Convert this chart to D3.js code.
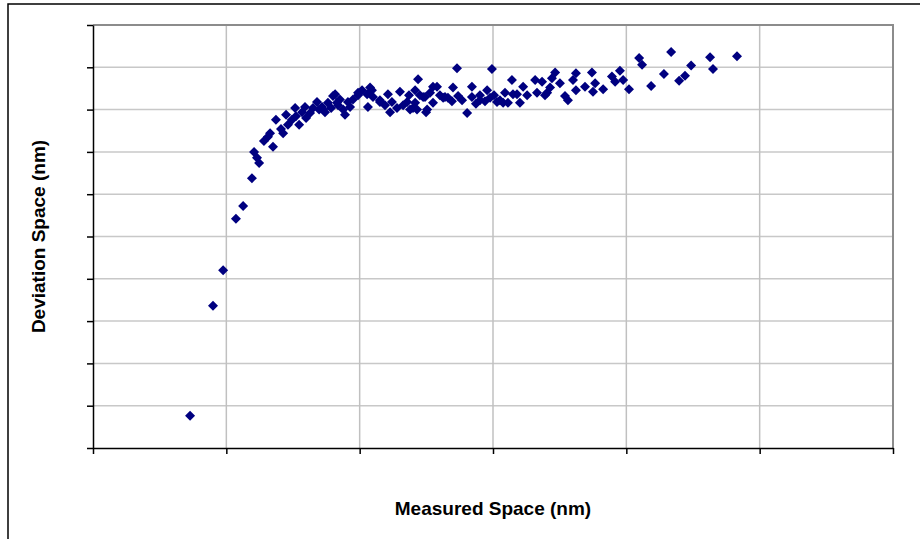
<!DOCTYPE html>
<html>
<head>
<meta charset="utf-8">
<script src="https://cdn.jsdelivr.net/npm/d3@7"></script>
<style>
  body { margin: 0; background: #fff; }
  svg { display: block; }
  .axis-title { font-family: "Liberation Sans", Arial, sans-serif; font-weight: bold; font-size: 19px; fill: #000; }
</style>
</head>
<body>
<svg id="chart" width="920" height="539"></svg>
<script>
// measured space (nm) of each sample
const measured = [
    36.4, 45.0, 48.8, 53.6, 56.3, 59.6, 60.4, 61.5, 62.3, 64.1,
    65.6, 66.4, 67.5, 68.6, 70.5, 71.3, 72.4, 74.6, 75.8, 77.3,
    78.4, 79.5, 81.4, 84.0, 85.9, 87.0, 88.1, 90.8, 91.9, 93.8,
    94.5, 96.4, 97.5, 99.4, 100.9, 102.8, 103.1, 104.6, 107.6, 109.5,
    110.6, 111.4, 115.1, 116.3, 117.8, 120.8, 121.9, 121.5, 123.8, 125.3,
    86.3, 90.0, 91.5, 95.6, 99.4, 103.9, 105.0, 107.6, 112.1, 118.9,
    120.8, 73.1, 76.1, 79.9, 82.5, 84.8, 89.3, 92.6,
    120.0, 122.6, 124.5, 126.4, 127.5, 129.0, 130.1, 131.3, 132.0, 134.6,
    135.0, 136.5, 138.4, 140.3, 142.1, 142.1, 145.1, 145.1, 147.8, 148.9,
    149.6, 151.5, 124.9,
    153.8, 154.5, 155.6, 157.1, 157.5, 159.0, 160.1, 161.3, 162.8, 165.8,
    166.5, 168.4, 169.5, 170.3, 171.4, 172.1, 173.3, 175.1, 177.0, 178.1,
    180.0, 181.1, 181.1, 184.5, 187.1, 187.5, 188.3,
    191.3, 194.6, 195.8, 197.6, 198.8, 201.0, 204.8, 205.9, 209.3, 214.1,
    216.8, 219.8, 222.0, 224.3, 231.4, 232.5, 241.5,
    114.0, 118.5, 127.5, 133.1, 136.9, 143.6, 147.0, 150.4, 152.6
];

// deviation space (nm) of each sample
const deviation = [
    3.8, 16.8, 21.0, 27.1, 28.6, 31.9, 35.0, 34.3, 33.7, 36.3,
    36.8, 37.2, 35.6, 38.8, 37.7, 37.2, 39.4, 38.8, 40.2, 38.2,
    39.7, 40.3, 39.6, 40.9, 40.3, 39.7, 40.8, 41.8, 40.5, 40.0,
    39.4, 40.3, 41.2, 41.7, 42.3, 41.8, 40.3, 42.3, 40.9, 40.5,
    41.8, 39.7, 42.1, 40.5, 40.9, 42.3, 43.6, 40.0, 41.5, 40.0,
    40.0, 41.6, 40.8, 40.9, 42.0, 42.6, 41.5, 41.1, 40.9, 40.0,
    40.8, 38.2, 39.2, 39.0, 40.2, 40.0, 40.2, 41.2,
    40.2, 41.7, 41.5, 42.0, 42.7, 42.7, 41.7, 41.4, 41.5, 41.0,
    42.6, 44.9, 41.1, 39.6, 42.7, 41.5, 41.1, 41.7, 42.3, 41.4,
    44.8, 40.9, 39.7,
    40.8, 42.0, 40.8, 43.5, 41.8, 41.8, 40.8, 42.7, 41.7, 43.5,
    42.0, 43.3, 41.7, 42.0, 42.6, 43.7, 44.4, 43.1, 41.6, 41.1,
    43.5, 44.3, 42.3, 42.7, 44.4, 42.1, 43.1,
    42.4, 43.9, 43.3, 44.6, 43.5, 42.4, 46.1, 45.3, 42.8, 44.2,
    46.8, 43.4, 44.0, 45.2, 46.2, 44.8, 46.3,
    40.2, 41.7, 40.8, 41.4, 41.6, 40.7, 41.0, 41.7, 41.1
];

const xTicks = [0, 50, 100, 150, 200, 250, 300];
const yTicks = [0, 5, 10, 15, 20, 25, 30, 35, 40, 45, 50];

const svg = d3.select("#chart");
const plotLeft = 93, plotRight = 893, plotTop = 25, plotBottom = 448;

// outer chart border (runs off the page on the right and bottom)
svg.append("rect")
    .attr("x", 8).attr("y", 4)
    .attr("width", 1000).attr("height", 1000)
    .attr("fill", "none")
    .attr("stroke", "#000")
    .attr("stroke-width", 1.5);

const x = d3.scaleLinear().domain([0, 300]).range([plotLeft, plotRight]);
const y = d3.scaleLinear().domain([0, 50]).range([plotBottom, plotTop]);

// grid
svg.append("g").selectAll("line")
    .data(yTicks.slice(1, -1))
    .enter().append("line")
    .attr("x1", plotLeft).attr("x2", plotRight)
    .attr("y1", d => y(d)).attr("y2", d => y(d))
    .attr("stroke", "#c8c8c8").attr("stroke-width", 1.5);

svg.append("g").selectAll("line")
    .data(xTicks.slice(1, -1))
    .enter().append("line")
    .attr("y1", plotTop).attr("y2", plotBottom)
    .attr("x1", d => x(d)).attr("x2", d => x(d))
    .attr("stroke", "#c0c0c0").attr("stroke-width", 1.5);

// top and right frame of the plot area
svg.append("path")
    .attr("d", `M${plotLeft},${plotTop}H${plotRight}V${plotBottom}`)
    .attr("fill", "none")
    .attr("stroke", "#8c8c8c")
    .attr("stroke-width", 2);

// axes, ticks only, no labels
const xAxis = svg.append("g")
    .attr("transform", `translate(0,${plotBottom})`)
    .call(d3.axisBottom(x).tickValues(xTicks).tickFormat("").tickSize(6).tickSizeOuter(0));
const yAxis = svg.append("g")
    .attr("transform", `translate(${plotLeft},0)`)
    .call(d3.axisLeft(y).tickValues(yTicks).tickFormat("").tickSize(6).tickSizeOuter(0));
[xAxis, yAxis].forEach(function (a) {
    a.selectAll("path, line").attr("stroke", "#000").attr("stroke-width", 1.5);
});

// diamond markers
const r = 5;
svg.append("g").selectAll("path")
    .data(measured.map((m, i) => [m, deviation[i]]))
    .enter().append("path")
    .attr("d", function (d) {
        const cx = x(d[0]), cy = y(d[1]);
        return `M${cx},${cy - r}L${cx + r},${cy}L${cx},${cy + r}L${cx - r},${cy}Z`;
    })
    .attr("fill", "#000080");

// axis titles
svg.append("text")
    .attr("class", "axis-title")
    .attr("text-anchor", "middle")
    .attr("transform", `translate(45,${(plotTop + plotBottom) / 2}) rotate(-90)`)
    .text("Deviation Space (nm)");

svg.append("text")
    .attr("class", "axis-title")
    .attr("text-anchor", "middle")
    .attr("x", (plotLeft + plotRight) / 2)
    .attr("y", 515)
    .text("Measured Space (nm)");
</script>
</body>
</html>
